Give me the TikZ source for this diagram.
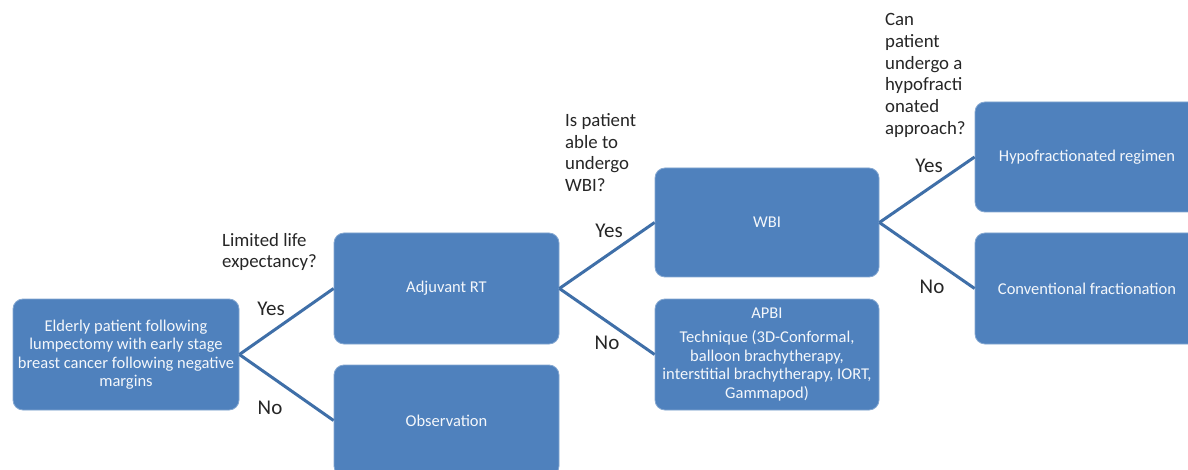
\documentclass[tikz,border=0pt]{standalone}
\usepackage{fontspec}
\setmainfont{Carlito}
\definecolor{boxblue}{HTML}{4F81BD}
\definecolor{lineblue}{HTML}{3F6FA8}
\definecolor{boxtext}{HTML}{F4F7FB}
\begin{document}
\begin{tikzpicture}[x=1pt,y=-1pt,
  box/.style={draw=boxblue!70!white, line width=0.8pt, fill=boxblue, rounded corners=10pt, align=center,
    text=boxtext, font=\fontsize{16.5}{18.5}\selectfont, inner sep=0pt, minimum width=#1},
  box/.default=224pt,
  lbl/.style={align=left, inner sep=0pt, anchor=west, font=\fontsize{18.8}{21.8}\selectfont, text=black!85},
  yn/.style={inner sep=0pt, font=\fontsize{21}{24}\selectfont, text=black!85},
  conn/.style={draw=lineblue, line width=3pt}]
\useasboundingbox (0,0) rectangle (1188,470);
\fill[white] (0,0) rectangle (1188,470);

\node[box=226pt, minimum height=111pt] (eld) at (126,354.5) {Elderly patient following\\lumpectomy with early stage\\breast cancer following negative\\margins};
\node[box=225pt, minimum height=111pt] (adj) at (446.5,288.5) {Adjuvant RT};
\node[box=225pt, minimum height=111pt] (obs) at (446.5,420.5) {Observation};
\node[box, minimum height=109pt] (wbi) at (767,222.5) {WBI};
\node[box, minimum height=111pt] (apbi) at (767,354.5) {APBI\\[6pt]Technique (3D-Conformal,\\balloon brachytherapy,\\interstitial brachytherapy, IORT,\\Gammapod)};
\node[box, minimum height=110pt] (hypo) at (1087,157) {Hypofractionated regimen};
\node[box, minimum height=111pt] (conv) at (1087,288.5) {Conventional fractionation};

\draw[conn] (eld.east) -- (adj.west);
\draw[conn] (eld.east) -- (obs.west);
\draw[conn] (adj.east) -- (wbi.west);
\draw[conn] (adj.east) -- (apbi.west);
\draw[conn] (wbi.east) -- (hypo.west);
\draw[conn] (wbi.east) -- (conv.west);

\node[lbl] (q1) at (222,252) {Limited life\\expectancy?};
\node[lbl] (q2) at (565,152.5) {Is patient\\able to\\undergo\\WBI?};
\node[lbl] (q3) at (885,75.5) {Can\\patient\\undergo a\\hypofracti\\onated\\approach?};

\node[yn] (y1) at (271,309) {Yes};
\node[yn] (n1) at (270,408) {No};
\node[yn] (y2) at (609,231) {Yes};
\node[yn] (n2) at (607,343) {No};
\node[yn] (y3) at (929,166) {Yes};
\node[yn] (n3) at (932,287) {No};
\end{tikzpicture}
\end{document}
